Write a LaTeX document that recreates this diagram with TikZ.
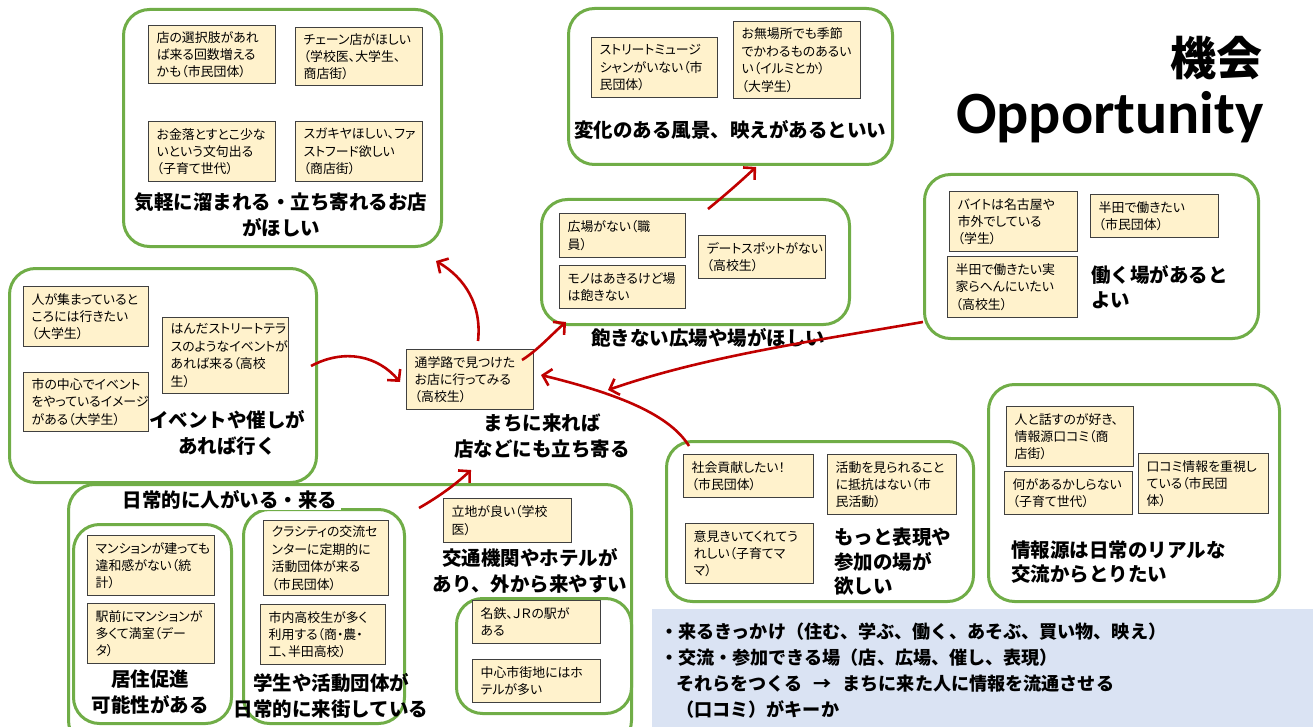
\documentclass[tikz,border=0pt]{standalone}
\usepackage{fontspec}
\setmainfont{Noto Sans CJK JP}
\newfontfamily\boxfont{Noto Sans CJK JP}[RawFeature=+palt]
\newfontfamily\titlefont{Carlito}
\usetikzlibrary{arrows.meta}
\definecolor{grp}{RGB}{112,173,71}
\definecolor{arr}{RGB}{192,0,0}
\definecolor{boxfill}{RGB}{255,242,204}
\definecolor{boxline}{RGB}{64,64,64}
\definecolor{infofill}{RGB}{218,227,243}
\tikzset{
  grpbox/.style={draw=grp, line width=3pt, rounded corners=26pt, anchor=north west, inner sep=0pt},
  sbox/.style={draw=boxline, fill=boxfill, line width=1.3pt, anchor=north west, inner xsep=8pt, inner ysep=2pt, align=left, font=\boxfont\fontsize{12.9}{17.4}\selectfont},
  lbl/.style={font=\fontsize{19.5}{26}\selectfont\bfseries, align=center, inner sep=1pt},
  lbll/.style={font=\fontsize{19.5}{24.5}\selectfont\bfseries, align=left, inner sep=1pt, anchor=west},
  redarrow/.style={draw=arr, line width=2.6pt, -{Straight Barb[length=8pt,width=17pt]}},
}
\begin{document}
\begin{tikzpicture}[x=1pt,y=-1pt]
\useasboundingbox (0,0) rectangle (1313,727);

% ---------- group frames ----------
\node[grpbox, minimum width=318, minimum height=237] (g1) at (122,8) {};
\node[grpbox, minimum width=324, minimum height=156] (g2) at (567,7) {};
\node[grpbox, minimum width=308, minimum height=125] (g3) at (540,198) {};
\node[grpbox, minimum width=334, minimum height=164] (g4) at (923,173) {};
\node[grpbox, minimum width=307, minimum height=214] (g5) at (8,267) {};
\node[grpbox, minimum width=307, minimum height=160] (g6) at (665,440) {};
\node[grpbox, minimum width=291, minimum height=217] (g7) at (987,383) {};
\node[grpbox, minimum width=563, minimum height=262] (gall) at (67,483) {};
\node[grpbox, minimum width=158, minimum height=199] (g9) at (72,523) {};
\node[grpbox, minimum width=161, minimum height=214] (g10) at (242,508) {};
\node[grpbox, minimum width=175, minimum height=115] (g8) at (455,597) {};

% info panel
\node[fill=infofill, anchor=north west, minimum width=661, minimum height=119, inner sep=0pt] (info) at (652,609) {};

% ---------- group 1 ----------
\node[sbox, minimum width=127, minimum height=58, text width=111] (b1) at (148,25) {店の選択肢があれ\\ば来る回数増える\\かも（市民団体）};
\node[sbox, minimum width=127, minimum height=58, text width=111] (b2) at (295,27) {チェーン店がほしい\\（学校医、大学生、\\商店街）};
\node[sbox, minimum width=127, minimum height=60, text width=111] (b3) at (148,121) {お金落とすとこ少な\\いという文句出る\\（子育て世代）};
\node[sbox, minimum width=127, minimum height=60, text width=111] (b4) at (295,121) {スガキヤほしい、ファ\\ストフード欲しい\\（商店街）};
\node[lbl] (l1) at (281,215) {気軽に溜まれる・立ち寄れるお店\\がほしい};

% ---------- group 2 ----------
\node[sbox, minimum width=126, minimum height=60, text width=110] (b5) at (591,37) {ストリートミュージ\\シャンがいない（市\\民団体）};
\node[sbox, minimum width=127, minimum height=77, text width=111] (b6) at (733,21) {お無場所でも季節\\でかわるものあるい\\い（イルミとか）\\（大学生）};
\node[lbl] (l2) at (730,130) {変化のある風景、映えがあるといい};

% ---------- group 3 ----------
\node[sbox, minimum width=126, minimum height=44, text width=110] (b7) at (559,213) {広場がない（職\\員）};
\node[sbox, minimum width=126, minimum height=43, text width=110] (b8) at (559,265) {モノはあきるけど場\\は飽きない};
\node[sbox, minimum width=127, minimum height=43, text width=111] (b9) at (698,235) {デートスポットがない\\（高校生）};
\node[lbl] (l3) at (708,338) {飽きない広場や場がほしい};

% ---------- group 4 ----------
\node[sbox, minimum width=128, minimum height=60, text width=112] (b10) at (949,191) {バイトは名古屋や\\市外でしている\\（学生）};
\node[sbox, minimum width=128, minimum height=43, text width=112] (b11) at (1090,194) {半田で働きたい\\（市民団体）};
\node[sbox, minimum width=130, minimum height=61, text width=114] (b12) at (947,256) {半田で働きたい実\\家らへんにいたい\\（高校生）};
\node[lbll] (l4) at (1090,287) {働く場があると\\よい};

% ---------- group 5 ----------
\node[sbox, minimum width=125, minimum height=60, text width=109] (b13) at (23,286) {人が集まっていると\\ころには行きたい\\（大学生）};
\node[sbox, minimum width=125, minimum height=59, text width=109] (b14) at (23,372) {市の中心でイベント\\をやっているイメージ\\がある（大学生）};
\node[sbox, minimum width=126, minimum height=76, text width=110] (b15) at (162,317) {はんだストリートテラ\\スのようなイベントが\\あれば来る（高校\\生）};
\node[lbl] (l5) at (227,433) {イベントや催しが\\あれば行く};

% ---------- centre ----------
\node[sbox, minimum width=127, minimum height=60, text width=111] (c) at (406,349) {通学路で見つけた\\お店に行ってみる\\（高校生）};
\node[lbl] (l6) at (542,436) {まちに来れば\\店などにも立ち寄る};

% ---------- group 6 ----------
\node[sbox, minimum width=130, minimum height=43, text width=114] (b16) at (683,454) {社会貢献したい！\\（市民団体）};
\node[sbox, minimum width=129, minimum height=60, text width=113] (b17) at (827,454) {活動を見られること\\に抵抗はない（市\\民活動）};
\node[sbox, minimum width=128, minimum height=60, text width=112] (b18) at (685,523) {意見きいてくれてう\\れしい（子育てマ\\マ）};
\node[lbll] (l7) at (833,562) {もっと表現や\\参加の場が\\欲しい};

% ---------- group 7 ----------
\node[sbox, minimum width=127, minimum height=60, text width=111] (b19) at (1006,406) {人と話すのが好き、\\情報源口コミ（商\\店街）};
\node[sbox, minimum width=128, minimum height=43, text width=112] (b20) at (1004,471) {何があるかしらない\\（子育て世代）};
\node[sbox, minimum width=130, minimum height=60, text width=114] (b21) at (1138,453) {口コミ情報を重視し\\ている（市民団\\体）};
\node[lbll] (l8) at (1010,562) {情報源は日常のリアルな\\交流からとりたい};

% ---------- bottom-left ----------
\node[lbl, fill=white, inner xsep=4pt] (l9) at (230,500) {日常的に人がいる・来る};
\node[sbox, minimum width=127, minimum height=60, text width=111] (b22) at (87,535) {マンションが建っても\\違和感がない（統\\計）};
\node[sbox, minimum width=127, minimum height=60, text width=111] (b23) at (87,603) {駅前にマンションが\\多くて満室（デー\\タ）};
\node[lbl] (l10) at (150,692) {居住促進\\可能性がある};
\node[sbox, minimum width=125, minimum height=75, text width=109] (b24) at (263,520) {クラシティの交流セ\\ンターに定期的に\\活動団体が来る\\（市民団体）};
\node[sbox, minimum width=125, minimum height=60, text width=109] (b25) at (260,604) {市内高校生が多く\\利用する（商・農・\\工、半田高校）};
\node[lbl] (l11) at (331,696) {学生や活動団体が\\日常的に来街している};
\node[sbox, minimum width=128, minimum height=44, text width=112] (b26) at (443,498) {立地が良い（学校\\医）};
\node[lbl] (l12) at (530,571) {交通機関やホテルが\\あり、外から来やすい};
\node[sbox, minimum width=128, minimum height=43, text width=112] (b27) at (472,600) {名鉄、ＪＲの駅が\\ある};
\node[sbox, minimum width=128, minimum height=43, text width=112] (b28) at (472,659) {中心市街地にはホ\\テルが多い};

% ---------- info text ----------
\node[anchor=north west, align=left, inner sep=0pt, font=\fontsize{18.1}{25.8}\selectfont\bfseries] (infotext) at (660,623)
{・来るきっかけ（住む、学ぶ、働く、あそぶ、買い物、映え）\\
・交流・参加できる場（店、広場、催し、表現）\\
\hspace*{16pt}それらをつくる\hspace{11pt}→\hspace{11pt}まちに来た人に情報を流通させる\\
\hspace*{16pt}（口コミ）がキーか};

% ---------- title ----------
\node[anchor=east, inner sep=0pt, font=\fontsize{46}{46}\selectfont\bfseries] (tjp) at (1263,58) {機会};
\node[anchor=east, inner sep=0pt, font=\titlefont\bfseries\fontsize{60}{60}\selectfont] (ten) at (1264,117) {Opportunity};

% ---------- arrows ----------
\coordinate (a1s) at (478,341);
\coordinate (a1e) at (436,261);
\coordinate (a2s) at (522,360);
\coordinate (a2e) at (566,322);
\coordinate (a3s) at (708,209);
\coordinate (a3e) at (756,167);
\coordinate (a4s) at (311,366);
\coordinate (a4e) at (400,382);
\coordinate (a5s) at (923,322);
\coordinate (a5e) at (608,390);
\coordinate (a6s) at (689,446);
\coordinate (a6e) at (541,375);
\coordinate (a7s) at (419,508);
\coordinate (a7e) at (471,470);
\draw[redarrow] (a1s) .. controls (482,305) and (465,278) .. (a1e);
\draw[redarrow] (a2s) .. controls (538,350) and (552,334) .. (a2e);
\draw[redarrow] (a3s) .. controls (724,196) and (740,182) .. (a3e);
\draw[redarrow] (a4s) .. controls (345,348) and (378,356) .. (a4e);
\draw[redarrow] (a5s) .. controls (800,343) and (700,358) .. (a5e);
\draw[redarrow] (a6s) .. controls (668,412) and (610,392) .. (a6e);
\draw[redarrow] (a7s) .. controls (440,496) and (456,484) .. (a7e);
\end{tikzpicture}
\end{document}
